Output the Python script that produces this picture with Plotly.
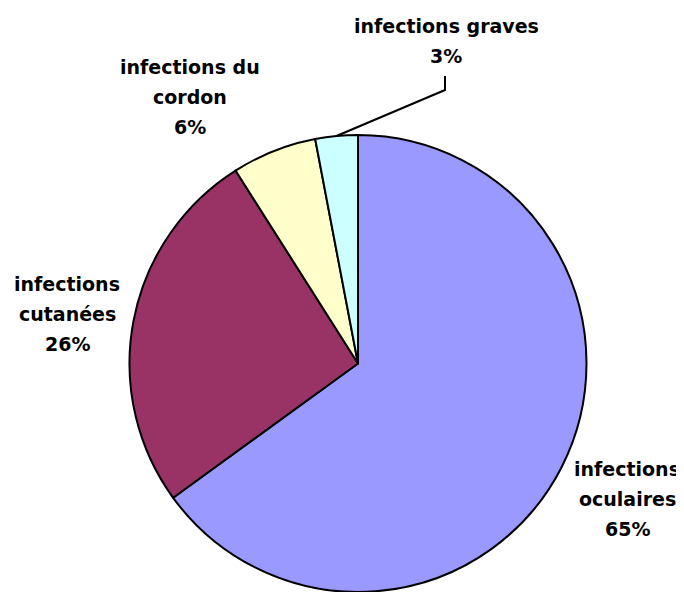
import math
import plotly.graph_objects as go

categories = ["infections oculaires", "infections cutanées", "infections du cordon", "infections graves"]
values = [65, 26, 6, 3]
colors = ["#9999FF", "#993366", "#FFFFCC", "#CCFFFF"]
label_lines = [
    ["infections", "oculaires", "65%"],
    ["infections", "cutanées", "26%"],
    ["infections du", "cordon", "6%"],
    ["infections graves", "3%"],
]

OFF = 8  # page body margin
W, H = 684 - OFF, 592 - OFF
dom_x = [(129 - OFF) / W, (587 - OFF) / W]
dom_y = [0.0, 1 - (135 - OFF) / H]

fig = go.Figure(go.Pie(
    labels=categories, values=values, sort=False, direction="clockwise", rotation=0,
    marker=dict(colors=colors, line=dict(color="black", width=2)),
    textinfo="none", hoverinfo="label+percent", showlegend=False,
    domain=dict(x=dom_x, y=dom_y),
))

# label positions (window pixels, top-left origin): first-line centre x, y
label_pos = [(627, 469), (67, 284), (190, 67), (446, 26)]
line_gap = 30
font = dict(family="DejaVu Sans", size=19, color="black")
for (cx, cy), lines in zip(label_pos, label_lines):
    for i, t in enumerate(lines):
        fig.add_annotation(text="<b>%s</b>" % t, x=(cx - OFF) / W, y=1 - (cy - OFF + i * line_gap) / H,
                           xref="paper", yref="paper", xanchor="center", yanchor="middle",
                           showarrow=False, font=font)

# leader line for the small slice, ending on the rim at the slice mid-angle
cxp = (dom_x[0] + dom_x[1]) / 2 * W
cyp = H - (dom_y[0] + dom_y[1]) / 2 * H
r = min((dom_x[1] - dom_x[0]) * W, (dom_y[1] - dom_y[0]) * H) / 2
total = sum(values)
mid = (sum(values[:-1]) + values[-1] / 2) / total * 2 * math.pi
ex, ey = cxp + r * math.sin(mid), cyp - r * math.cos(mid)
pts = [(445 - OFF, 76 - OFF), (445 - OFF, 90 - OFF), (ex, ey)]
path = "M " + " L ".join("%f,%f" % (px / W, 1 - py / H) for px, py in pts)
fig.add_shape(type="path", path=path, xref="paper", yref="paper",
              line=dict(color="black", width=2))

fig.update_layout(width=W, height=H, margin=dict(l=0, r=0, t=0, b=0),
                  paper_bgcolor="white", plot_bgcolor="white")
fig.write_html("out.html")
